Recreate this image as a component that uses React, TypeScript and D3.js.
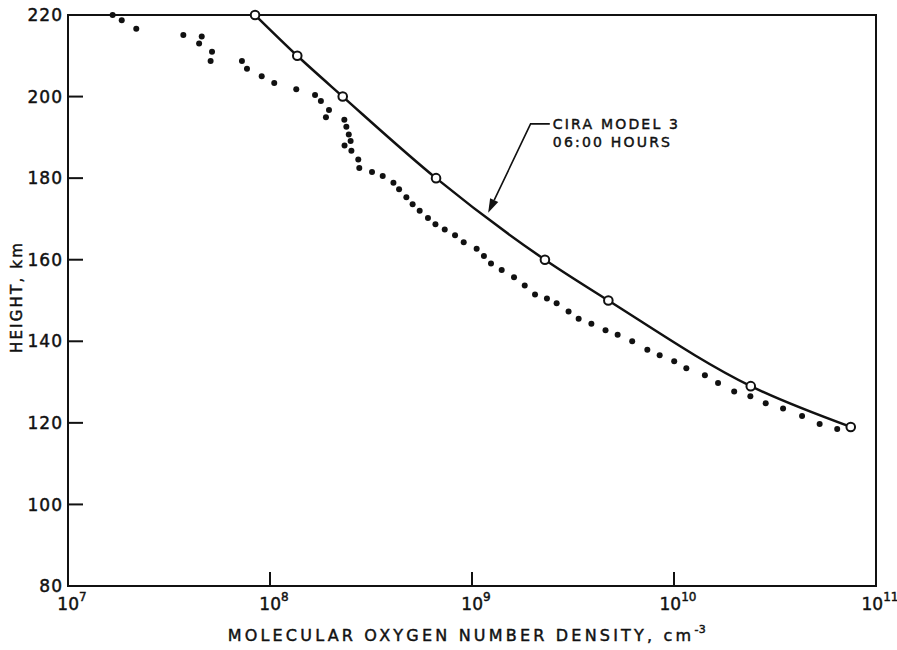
import React from "react";
import * as d3 from "d3";

// Observed molecular oxygen densities (log10 cm^-3) and heights (km)
const obsLogDensity = [
  7.221, 7.266, 7.338, 7.571, 7.662, 7.649, 7.713, 7.706, 7.861, 7.886,
  7.959, 8.021, 8.13, 8.223, 8.252, 8.292, 8.277, 8.368, 8.378, 8.39,
  8.399, 8.369, 8.403, 8.437, 8.442, 8.505, 8.558, 8.611, 8.639, 8.675,
  8.706, 8.741, 8.782, 8.819, 8.865, 8.916, 8.959, 9.023, 9.059, 9.094,
  9.147, 9.208, 9.261, 9.312, 9.371, 9.419, 9.478, 9.528, 9.591, 9.661,
  9.721, 9.793, 9.868, 9.929, 10.001, 10.061, 10.153, 10.218, 10.298, 10.378,
  10.454, 10.54, 10.634, 10.721, 10.808,
];
const obsHeight = [
  220.0, 218.7, 216.6, 215.1, 214.7, 213.0, 211.0, 208.7, 208.7, 206.8,
  205.0, 203.3, 201.8, 200.4, 198.9, 196.7, 194.9, 194.3, 192.6, 190.7,
  189.1, 188.0, 186.7, 184.6, 182.5, 181.5, 180.5, 178.9, 177.3, 175.3,
  173.6, 172.0, 170.2, 168.7, 167.4, 166.0, 164.3, 162.7, 160.9, 159.1,
  157.5, 155.7, 153.7, 151.5, 150.5, 149.3, 147.3, 145.5, 144.3, 142.7,
  141.6, 140.0, 137.9, 136.6, 135.1, 133.4, 131.7, 129.8, 127.7, 126.5,
  124.8, 123.5, 121.7, 119.7, 118.5,
];

// CIRA Model 3, 06:00 hours
const ciraLogDensity = [7.926, 8.135, 8.36, 8.822, 9.361, 9.675, 10.38, 10.875];
const ciraHeight = [220, 210, 200, 180, 160, 150, 129, 119];

const yTicks = [80, 100, 120, 140, 160, 180, 200, 220];
const xTickExponents = [7, 8, 9, 10, 11];

const xTitle = "MOLECULAR OXYGEN NUMBER DENSITY, cm";
const xTitleSup = "-3";
const yTitle = "HEIGHT, km";
const noteLines = ["CIRA MODEL 3", "06:00 HOURS"];

const W = 897;
const H = 650;
const M = { left: 68, right: 876, top: 15, bottom: 586 };
const FONT = "'DejaVu Sans', 'Liberation Sans', sans-serif";
const INK = "#111";

export default function App() {
  const x = d3.scaleLog().domain([1e7, 1e11]).range([M.left, M.right]);
  const y = d3.scaleLinear().domain([80, 220]).range([M.bottom, M.top]);

  const cira = ciraLogDensity.map((e, i) => ({ d: Math.pow(10, e), h: ciraHeight[i] }));
  const obs = obsLogDensity.map((e, i) => ({ d: Math.pow(10, e), h: obsHeight[i] }));

  const line = d3
    .line<{ d: number; h: number }>()
    .x((p) => x(p.d))
    .y((p) => y(p.h))
    .curve(d3.curveMonotoneX);

  // annotation anchored in data coordinates
  const noteX = x(Math.pow(10, 9.4));
  const noteY = y(193.3);
  const elbowX = x(Math.pow(10, 9.29));
  const tip = { x: x(Math.pow(10, 9.08)), y: y(171.5) };
  const ang = Math.atan2(tip.y - noteY, tip.x - elbowX);
  const aL = 14;
  const aW = 4.5;
  const bx = tip.x - aL * Math.cos(ang);
  const by = tip.y - aL * Math.sin(ang);
  const px = -Math.sin(ang) * aW;
  const py = Math.cos(ang) * aW;

  const textStyle = { stroke: INK, strokeWidth: 0.45, fill: INK };

  return (
    <svg
      width={W}
      height={H}
      style={{ position: "absolute", left: 0, top: 0, background: "#fff" }}
      fontFamily={FONT}
    >
      <rect x={0} y={0} width={W} height={H} fill="#fff" />
      {/* frame */}
      <rect
        x={M.left}
        y={M.top}
        width={M.right - M.left}
        height={M.bottom - M.top}
        fill="none"
        stroke={INK}
        strokeWidth={2}
      />
      {/* y ticks */}
      {yTicks.map((t) => (
        <g key={"y" + t}>
          {t !== 80 && t !== 220 && (
            <line x1={M.left} x2={M.left + 15} y1={y(t)} y2={y(t)} stroke={INK} strokeWidth={2} />
          )}
          <text
            x={M.left - 5}
            y={y(t)}
            dy="0.36em"
            textAnchor="end"
            fontSize={17}
            letterSpacing={1}
            {...textStyle}
          >
            {t}
          </text>
        </g>
      ))}
      {/* x ticks */}
      {xTickExponents.map((e) => (
        <g key={"x" + e}>
          {e !== 7 && e !== 11 && (
            <line
              x1={x(Math.pow(10, e))}
              x2={x(Math.pow(10, e))}
              y1={M.bottom}
              y2={M.bottom - 14}
              stroke={INK}
              strokeWidth={2}
            />
          )}
          <text x={x(Math.pow(10, e)) + 4} y={M.bottom + 24} textAnchor="middle" fontSize={17} {...textStyle}>
            10
            <tspan dy={-9} fontSize={12}>
              {e}
            </tspan>
          </text>
        </g>
      ))}
      {/* axis titles */}
      <text x={467} y={641} textAnchor="middle" fontSize={16} letterSpacing={3.2} {...textStyle}>
        {xTitle}
        <tspan dy={-8} fontSize={11} letterSpacing={0.5}>
          {xTitleSup}
        </tspan>
      </text>
      <text
        transform={`translate(22, ${297}) rotate(-90)`}
        textAnchor="middle"
        fontSize={15}
        letterSpacing={2.2}
        {...textStyle}
      >
        {yTitle}
      </text>
      {/* observed points */}
      {obs.map((p, i) => (
        <circle key={"o" + i} cx={x(p.d)} cy={y(p.h)} r={3} fill={INK} />
      ))}
      {/* CIRA curve */}
      <path d={line(cira) || ""} fill="none" stroke={INK} strokeWidth={2.5} />
      {cira.map((p, i) => (
        <circle key={"c" + i} cx={x(p.d)} cy={y(p.h)} r={4.3} fill="#fff" stroke={INK} strokeWidth={2} />
      ))}
      {/* annotation */}
      <polyline
        points={`${noteX - 3},${noteY} ${elbowX},${noteY} ${bx},${by}`}
        fill="none"
        stroke={INK}
        strokeWidth={1.6}
      />
      <polygon points={`${tip.x},${tip.y} ${bx + px},${by + py} ${bx - px},${by - py}`} fill={INK} />
      {noteLines.map((s, i) => (
        <text key={s} x={noteX} y={noteY + 5 + i * 18} fontSize={14} letterSpacing={2.2} {...textStyle}>
          {s}
        </text>
      ))}
    </svg>
  );
}
